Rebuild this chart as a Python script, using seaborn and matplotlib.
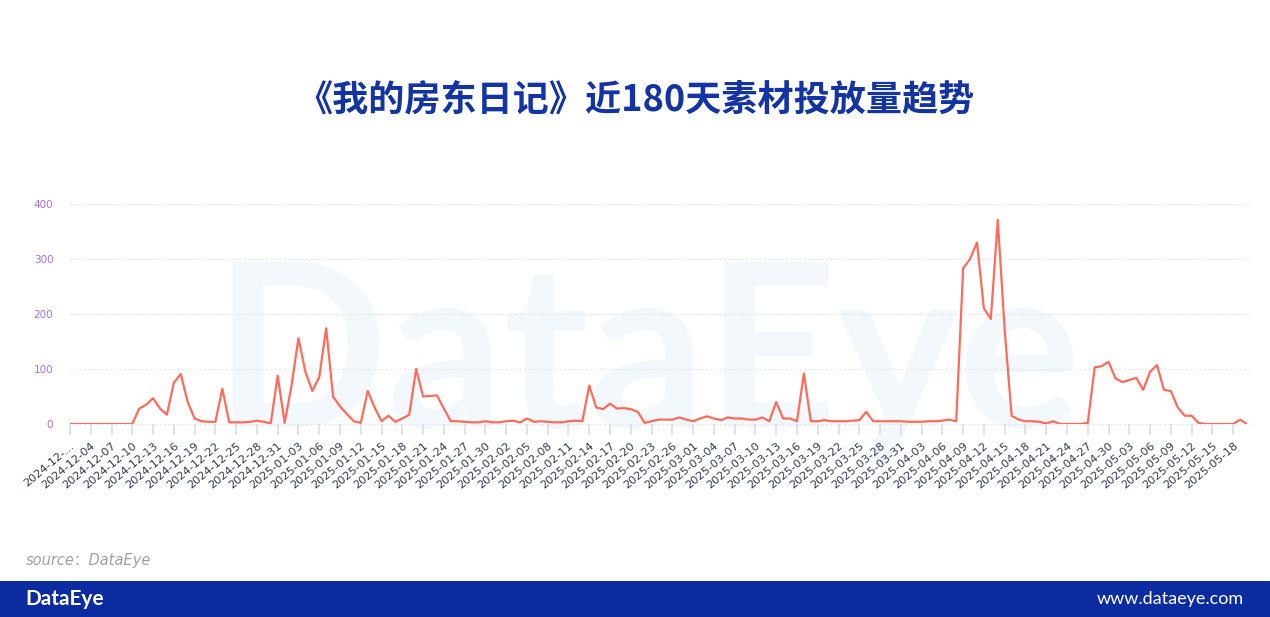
import numpy as np
import pandas as pd
import matplotlib.pyplot as plt
import seaborn as sns

# daily material volume
dec = [0, 0, 0, 0, 0, 0, 0, 0, 0, 0, 28, 35, 47, 28, 17, 75, 91, 40, 10, 5,
       4, 4, 64, 3, 3, 3, 4, 6, 4, 1, 88]
jan = [2, 70, 156, 95, 60, 85, 174, 50, 32, 18, 5, 2, 60, 30, 5, 15, 4, 10, 17, 100,
       50, 51, 52, 28, 5, 5, 4, 3, 3, 5, 3]
feb = [3, 5, 6, 3, 10, 4, 5, 4, 3, 3, 5, 6, 5, 70, 30, 27, 37, 28, 29, 27,
       22, 2, 5, 8, 8, 8, 12, 8]
mar = [5, 10, 14, 10, 7, 12, 10, 10, 8, 8, 12, 5, 40, 10, 10, 5, 92, 5, 5, 7,
       5, 5, 5, 6, 7, 22, 5, 5, 5, 5, 5]
apr = [4, 4, 4, 5, 5, 6, 8, 5, 283, 300, 330, 210, 191, 371, 171, 15, 8, 5, 5, 4,
       1, 5, 0, 0, 0, 0, 2, 103, 105, 113]
may = [83, 76, 80, 84, 62, 95, 107, 62, 60, 30, 15, 15, 2, 0, 0, 0, 0, 0, 8, 0]

values = dec + jan + feb + mar + apr + may
dates = pd.date_range('2024-12-01', periods=len(values), freq='D').strftime('%Y-%m-%d').tolist()
y_ticks = [0, 100, 200, 300, 400]

df = pd.DataFrame({'day': np.arange(len(values)), 'volume': values})

title = '《我的房东日记》近180天素材投放量趋势'
line_color = '#ff6b5b'
navy = '#0b2ca0'

sns.set_theme(style='white')
plt.rcParams['font.family'] = ['DejaVu Sans', 'Noto Sans CJK SC']

fig = plt.figure(figsize=(12.7, 6.17), dpi=100)
fig.patch.set_facecolor('white')

# big faint watermark behind the plot
fig.text(0.168, 0.308, 'DataEye', fontsize=165, color='#f3f8fd', family='Lato',
         fontweight='bold', ha='left', va='baseline', zorder=-5)

ax = fig.add_axes([0.0551, 0.3128, 0.9268, 0.3566])
ax.set_zorder(2)
ax.patch.set_alpha(0)
sns.lineplot(data=df, x='day', y='volume', ax=ax, color=line_color, linewidth=1.6)

ax.set_xlim(0, len(values) - 1)
ax.set_ylim(0, 400)
ax.set_yticks(y_ticks)
ax.set_yticklabels([str(v) for v in y_ticks], color='#a66ef0', fontsize=7.5)
for v in y_ticks:
    ax.axhline(v, color='#e3e3e8', linewidth=0.8, linestyle=(0, (2, 2)), zorder=0,
               xmax=1.002, clip_on=False)

tick_pos = list(range(0, len(values), 3))
tick_lab = [dates[i] for i in tick_pos]
tick_lab[0] = '2024-12-...'
ax.set_xticks(tick_pos)
ax.set_xticklabels(tick_lab, rotation=40, ha='right', rotation_mode='anchor',
                   fontsize=8.2, color='#323a4c')
ax.tick_params(axis='x', length=8, width=1.2, color='#d6ddf0', pad=4, bottom=True)
ax.tick_params(axis='y', length=0, pad=12)
for s in ax.spines.values():
    s.set_visible(False)
ax.set_xlabel('')
ax.set_ylabel('')

fig.text(0.5, 0.838, title, fontsize=26, fontweight='bold', color='#1534a3',
         family=['Noto Sans CJK SC', 'DejaVu Sans'], ha='center', va='center')

fig.text(0.02, 0.092, 'source：DataEye', fontsize=10.5, color='#a0a0a0', style='italic',
         family=['DejaVu Sans', 'Noto Sans CJK SC'], ha='left', va='center')

# footer band
fig.patches.append(plt.Rectangle((0, 0), 1, 0.0584, transform=fig.transFigure,
                                 facecolor=navy, edgecolor='none', zorder=1))
fig.text(0.02, 0.029, 'DataEye', fontsize=15, color='white', fontweight='bold',
         family='Lato', ha='left', va='center', zorder=2)
fig.text(0.979, 0.029, 'www.dataeye.com', fontsize=13, color='white',
         family='Lato', ha='right', va='center', zorder=2)

fig.savefig('out.png', dpi=100, facecolor='white')
